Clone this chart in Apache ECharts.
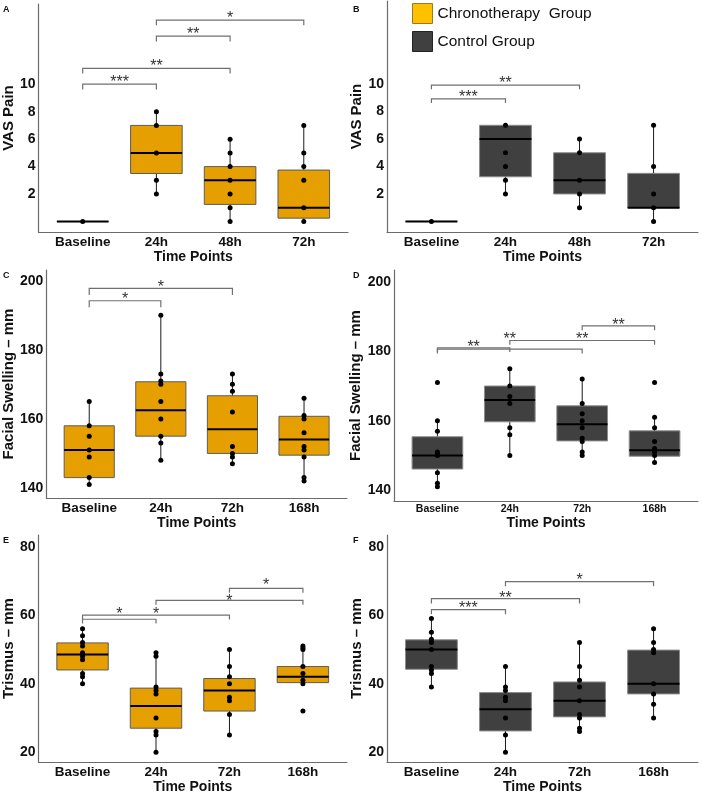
<!DOCTYPE html>
<html>
<head>
<meta charset="UTF-8">
<title></title>
<script src="https://cdn.jsdelivr.net/npm/echarts@6/dist/echarts.min.js"></script>
</head>
<body style="margin:0;background:#fff">
<div id="main" style="width:702px;height:795px;"></div>
<script type="text/javascript">
// categories and tick labels
var catsPain = ['Baseline', '24h', '48h', '72h'];
var catsLong = ['Baseline', '24h', '72h', '168h'];
var ticksPain = [2, 4, 6, 8, 10];
var ticksSwell = [140, 160, 180, 200];
var ticksTris = [20, 40, 60, 80];

// box stats per time point: [lower whisker, Q1, median, Q3, upper whisker]
var boxA = [[0, 0, 0, 0, 0], [2, 3.5, 5, 7, 8], [0, 1.25, 3, 4, 6], [0, 0.25, 1, 3.75, 7]];
var boxB = [[0, 0, 0, 0, 0], [2, 3.25, 6, 7, 7], [1, 2, 3, 5, 6], [0, 1, 1, 3.5, 7]];
var boxC = [[141, 143, 151, 158, 165], [148, 155, 162.5, 170.75, 190], [147, 150, 157, 166.7, 173], [142, 149.5, 154, 160.75, 166]];
var boxD = [[141, 146.1, 150, 155.4, 160], [150, 159.7, 166, 170, 175], [150, 154.2, 159, 164.3, 172], [148, 149.8, 151.5, 157.1, 161]];
var boxE = [[40, 44, 48.5, 51.9, 56], [20, 27, 33.5, 38.7, 49], [25, 32, 38, 41.5, 50], [40, 40.3, 42, 45, 51]];
var boxF = [[39, 44.2, 50, 52.8, 59], [20, 26.2, 32.5, 37.4, 45], [26, 30.3, 35, 40.5, 52], [30, 37, 40, 49.8, 56]];

// individual observations per time point
var ptsA = [[0], [8, 7, 5, 3, 2], [6, 5, 4, 3, 2, 1, 0], [7, 5, 4, 3, 1, 0]];
var ptsB = [[0], [7, 5, 4, 3, 2], [6, 5, 3, 2, 1], [7, 4, 2, 1, 0]];
var ptsC = [[165, 158, 155, 151, 149, 143, 141], [190, 173, 171, 170, 165, 160, 155, 153, 148], [173, 170, 168, 162, 152, 150, 149, 147], [166, 161, 160, 156, 152, 151, 149, 143, 142]];
var ptsD = [[171, 160, 157, 151, 150.5, 150, 145, 142, 141], [175, 170, 167, 165, 158, 156, 150], [172, 165, 162, 160, 158, 155, 154, 151, 150], [171, 161, 158, 154, 152, 151.5, 151, 150, 148]];
var ptsE = [[56, 54, 52, 51, 49, 48.5, 48, 47, 43, 42, 40], [49, 48, 39, 38, 37, 30, 26, 25, 20], [50, 45, 42, 40, 36, 35, 31, 25], [51, 50.5, 50, 45, 43, 41, 40, 32]];
var ptsF = [[59, 55, 53, 52, 50, 45, 44, 43, 39], [45, 39, 38, 36, 35, 30, 25, 20], [52, 45, 41, 39, 35, 31, 30, 27, 26], [56, 52, 50, 49, 40, 37, 34, 30]];

// significance brackets: [from, to, bracket y, star y]
var brA = [[0, 1, 10.0, 10.4], [0, 2, 11.16, 11.6], [1, 2, 13.5, 13.9], [1, 3, 14.67, 15.1]];
var starsA = ['***', '**', '**', '*'];
var brB = [[0, 1, 8.93, 9.3], [0, 2, 9.93, 10.3]];
var starsB = ['***', '**'];
var brC = [[0, 1, 194.2, 195.7], [0, 2, 197.8, 199.2]];
var starsC = ['*', '*'];
var brD = [[0, 1, 181.0, 182.3], [0, 2, 180.6, 184.5], [1, 3, 183.1, 184.5], [2, 3, 187.3, 188.5]];
var starsD = ['**', '**', '**', '**'];
var brE = [[0, 1, 58.8, 61.2], [0, 2, 60.0, 61.3], [1, 3, 64.3, 65.2], [2, 3, 67.8, 69.9]];
var starsE = ['*', '*', '*', '*'];
var brF = [[0, 1, 61.6, 63.2], [0, 2, 64.8, 66.0], [1, 3, 69.8, 71.3]];
var starsF = ['***', '**', '*'];

var CHRONO = 'Chronotherapy  Group';
var CONTROL = 'Control Group';
var FONT = 'Liberation Sans, Arial, sans-serif';
var BOX_W = 0.7;

var panels = [
  {id: 'A', grid: {left: 35, top: 4, width: 313, height: 228}, y: [-0.76, 15.84], ticks: ticksPain, cats: catsPain, box: boxA, pts: ptsA, br: brA, stars: starsA, grp: CHRONO, yName: 'VAS Pain', tip: 5.3, xFont: 13.5, yGap: 17, xGap: 11},
  {id: 'B', grid: {left: 387, top: 1, width: 311, height: 231}, y: [-0.77, 16.05], ticks: ticksPain, cats: catsPain, box: boxB, pts: ptsB, br: brB, stars: starsB, grp: CONTROL, yName: 'VAS Pain', tip: 4.2, xFont: 13.5, yGap: 17, xGap: 15},
  {id: 'C', grid: {left: 42, top: 270, width: 305, height: 228}, y: [137.1, 203.1], ticks: ticksSwell, cats: catsLong, box: boxC, pts: ptsC, br: brC, stars: starsC, grp: CHRONO, yName: 'Facial Swelling \u2013 mm', tip: 6.6, xFont: 13.5, yGap: 24, xGap: 15},
  {id: 'D', grid: {left: 394, top: 270, width: 304, height: 231}, y: [136.9, 203.4], ticks: ticksSwell, cats: catsLong, box: boxD, pts: ptsD, br: brD, stars: starsD, grp: CONTROL, yName: 'Facial Swelling \u2013 mm', tip: 4.3, xFont: 10.5, yGap: 24, xGap: 14},
  {id: 'E', grid: {left: 35, top: 535, width: 312, height: 229}, y: [17.1, 83.4], ticks: ticksTris, cats: catsLong, box: boxE, pts: ptsE, br: brE, stars: starsE, grp: CHRONO, yName: 'Trismus \u2013 mm', tip: 4.3, xFont: 13.5, yGap: 17, xGap: 17},
  {id: 'F', grid: {left: 387, top: 535, width: 311, height: 229}, y: [17.1, 83.4], ticks: ticksTris, cats: catsLong, box: boxF, pts: ptsF, br: brF, stars: starsF, grp: CONTROL, yName: 'Trismus \u2013 mm', tip: 4.7, xFont: 13.5, yGap: 17, xGap: 17}
];

function boxRenderer(fill, edge) {
  return function (params, api) {
    var x = api.value(0);
    var lo = api.coord([x, api.value(1)]);
    var q1 = api.coord([x, api.value(2)]);
    var md = api.coord([x, api.value(3)]);
    var q3 = api.coord([x, api.value(4)]);
    var hi = api.coord([x, api.value(5)]);
    var w = api.size([BOX_W, 0])[0];
    var cx = lo[0];
    return {
      type: 'group',
      children: [
        {type: 'line', shape: {x1: cx, y1: hi[1], x2: cx, y2: lo[1]}, style: {stroke: '#1a1a1a', lineWidth: 1}},
        {type: 'rect', shape: {x: cx - w / 2, y: q3[1], width: w, height: Math.max(q1[1] - q3[1], 0)}, style: {fill: fill, stroke: edge, lineWidth: 1}},
        {type: 'line', shape: {x1: cx - w / 2, y1: md[1], x2: cx + w / 2, y2: md[1]}, style: {stroke: '#000', lineWidth: 2}}
      ]
    };
  };
}

function bracketRenderer(stars, tip) {
  return function (params, api) {
    var a = api.coord([api.value(0), api.value(2)]);
    var b = api.coord([api.value(1), api.value(2)]);
    var s = api.coord([(api.value(0) + api.value(1)) / 2, api.value(3)]);
    return {
      type: 'group',
      children: [
        {type: 'polyline', shape: {points: [[a[0], a[1] + tip], [a[0], a[1]], [b[0], b[1]], [b[0], b[1] + tip]]},
          style: {stroke: '#707070', lineWidth: 1.2, fill: null}},
        {type: 'text', x: s[0], y: s[1] + 4,
          style: {text: stars[params.dataIndex], align: 'center', verticalAlign: 'middle', font: '16px ' + FONT, fill: '#333'}}
      ]
    };
  };
}

var grids = [], xAxes = [], yAxes = [], series = [], graphics = [];
panels.forEach(function (p, i) {
  grids.push(p.grid);
  xAxes.push({
    type: 'value', gridIndex: i, min: -0.6, max: 3.6,
    name: 'Time Points', nameLocation: 'middle', nameGap: p.xGap,
    nameTextStyle: {fontFamily: FONT, fontWeight: 'bold', fontSize: 14, color: '#111'},
    axisLine: {onZero: false, lineStyle: {color: '#6b6b6b', width: 1.2}},
    axisTick: {show: false},
    splitLine: {show: false},
    axisLabel: {customValues: [0, 1, 2, 3], margin: 3, fontFamily: FONT, fontWeight: 'bold', fontSize: p.xFont, color: '#111',
      formatter: (function (cats) { return function (v) { return cats[Math.round(v)] || ''; }; })(p.cats)}
  });
  yAxes.push({
    type: 'value', gridIndex: i, min: p.y[0], max: p.y[1],
    name: p.yName, nameLocation: 'middle', nameGap: p.yGap,
    nameTextStyle: {fontFamily: FONT, fontWeight: 'bold', fontSize: 15, color: '#111'},
    axisLine: {show: true, onZero: false, lineStyle: {color: '#6b6b6b', width: 1.2}},
    axisTick: {show: false},
    splitLine: {show: false},
    axisLabel: {customValues: p.ticks, margin: 3, fontFamily: FONT, fontWeight: 'bold', fontSize: 14, color: '#111'}
  });
  var chrono = p.grp === CHRONO;
  series.push({
    type: 'custom', name: p.grp, xAxisIndex: i, yAxisIndex: i, z: 2,
    itemStyle: {color: chrono ? '#FFC000' : '#404040'},
    renderItem: chrono ? boxRenderer('#E69F00', '#5c5c5c') : boxRenderer('#404040', '#8c8c8c'),
    encode: {x: 0, y: [1, 2, 3, 4, 5]},
    data: p.box.map(function (b, k) { return [k].concat(b); })
  });
  var dots = [];
  p.pts.forEach(function (vals, k) { vals.forEach(function (v) { dots.push([k, v]); }); });
  series.push({
    type: 'scatter', xAxisIndex: i, yAxisIndex: i, z: 3, silent: true,
    symbolSize: 5, itemStyle: {color: '#000', opacity: 1}, data: dots
  });
  series.push({
    type: 'custom', xAxisIndex: i, yAxisIndex: i, z: 4, silent: true,
    renderItem: bracketRenderer(p.stars, p.tip),
    encode: {x: [0, 1], y: [2, 3]},
    data: p.br
  });
  graphics.push({
    type: 'text', left: p.grid.left < 100 ? 3 : 353, top: p.grid.top < 10 ? 5 : p.grid.top + 1,
    style: {text: p.id, font: 'bold 9px ' + FONT, fill: '#111'}
  });
});

var myChart = echarts.init(document.getElementById('main'));
myChart.setOption({
  backgroundColor: '#fff',
  animation: false,
  legend: {
    orient: 'vertical', left: 412, top: 3, padding: 0, itemWidth: 20, itemHeight: 20, itemGap: 7,
    selectedMode: false,
    textStyle: {fontFamily: FONT, fontSize: 15.5, color: '#111'},
    data: [
      {name: CHRONO, icon: 'rect', itemStyle: {color: '#FFC000', borderColor: '#9a7a20', borderWidth: 1}},
      {name: CONTROL, icon: 'rect', itemStyle: {color: '#404040', borderColor: '#222', borderWidth: 1}}
    ]
  },
  grid: grids,
  xAxis: xAxes,
  yAxis: yAxes,
  graphic: graphics,
  series: series
});
</script>
</body>
</html>
